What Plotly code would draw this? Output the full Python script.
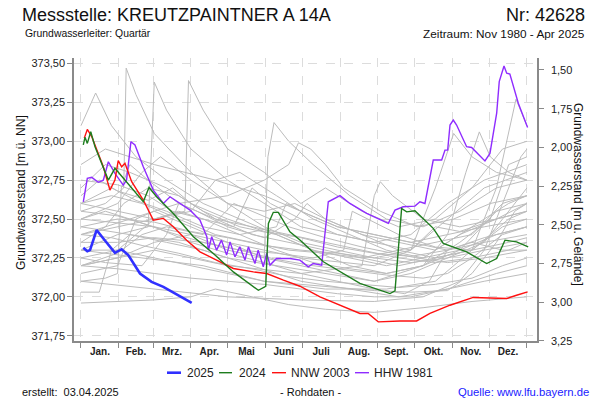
import plotly.graph_objects as go

# ---------------- data ----------------
month_starts = [0, 31, 59, 90, 120, 151, 181, 212, 243, 273, 304, 334, 365]
month_labels = ["Jan.", "Feb.", "Mrz.", "Apr.", "Mai", "Juni", "Juli", "Aug.", "Sept.", "Okt.", "Nov.", "Dez."]
left_ticks = [371.75, 372.00, 372.25, 372.50, 372.75, 373.00, 373.25, 373.50]
right_ticks = [1.50, 1.75, 2.00, 2.25, 2.50, 2.75, 3.00, 3.25]

y2025_day = [1.9, 5.2, 7.4, 12.8, 18.3, 27.8, 33.3, 38.7, 48.3, 57.8, 67.4, 78.3, 90.6]
y2025_val = [372.315, 372.293, 372.30, 372.429, 372.375, 372.283, 372.306, 372.268, 372.150, 372.096, 372.064, 372.017, 371.961]

y2024_day = [1.9, 3.3, 5.2, 8.0, 11.5, 15.6, 22.4, 27.8, 34.6, 42.8, 51.0, 55.7, 61.9, 75.6, 92.0, 108.3, 124.7, 145.2, 151.2, 153.4, 157.4, 161.5, 171.0, 179.2,
             198.4, 228.3, 252.9, 257.0, 262.4, 266.5, 273.3, 288.3, 296.5, 315.6, 332.0, 340.2, 347.0, 356.5, 366.0]
y2024_val = [372.976, 373.025, 372.986, 373.061, 372.965, 372.879, 372.750, 372.826, 372.761, 372.686, 372.611, 372.703, 372.643, 372.536, 372.386, 372.279, 372.160, 372.042, 372.068, 372.472, 372.543, 372.543, 372.418, 372.365,
             372.225, 372.086, 372.021, 372.038, 372.568, 372.546, 372.553, 372.440, 372.343, 372.289, 372.214, 372.246, 372.364, 372.353, 372.321]

nnw_day = [2.7, 5.2, 8.8, 12.8, 18.3, 23.7, 27.8, 30.5, 33.3, 36.0, 41.5, 51.0, 59.2, 67.4, 75.6, 86.5, 97.4, 111.0, 124.7, 141.1, 152.0, 165.7, 179.2,
           195.6, 212.0, 228.3, 235.0, 243.3, 261.0, 274.7, 285.6, 302.0, 321.0, 348.4, 356.5, 365.5]
nnw_val = [373.020, 373.076, 373.030, 372.943, 372.836, 372.686, 372.750, 372.875, 372.836, 372.858, 372.740, 372.622, 372.493, 372.504, 372.450, 372.364, 372.289, 372.236, 372.182, 372.160, 372.150, 372.107, 372.068,
           372.000, 371.946, 371.893, 371.893, 371.839, 371.845, 371.845, 371.893, 371.946, 371.996, 371.989, 372.010, 372.032]

hhw_day = [1.9, 5.2, 8.8, 14.2, 18.3, 22.4, 27.8, 34.6, 37.3, 40.9, 44.2, 51.0, 59.2, 67.4, 72.9, 81.1, 89.3, 97.4, 103.0, 104.3,
           107.0, 111.0, 115.0, 119.2, 122.0, 126.0, 130.0, 134.2, 137.0, 142.4, 145.0, 149.2, 152.0, 154.7, 160.0, 171.0, 179.2,
           186.0, 190.1, 197.0, 202.4, 212.0, 220.1, 233.8, 251.5, 257.0, 263.7, 273.3, 277.4, 281.5, 288.3, 295.2, 297.9, 300.1,
           302.0, 304.7, 307.4, 315.6, 319.7, 330.6, 334.7, 340.2, 342.3, 346.2, 348.4, 351.0, 357.9, 365.5]
hhw_val = [372.611, 372.761, 372.768, 372.736, 372.750, 372.868, 372.793, 372.718, 372.750, 372.997, 372.976, 372.836, 372.686, 372.600, 372.643, 372.600, 372.557, 372.493, 372.386, 372.300,
           372.386, 372.300, 372.364, 372.268, 372.353, 372.257, 372.321, 372.236, 372.321, 372.214, 372.300, 372.193, 372.280, 372.204, 372.246, 372.246, 372.236,
           372.193, 372.214, 372.204, 372.611, 372.650, 372.600, 372.536, 372.472, 372.557, 372.579, 372.583, 372.611, 372.600, 372.879, 372.879, 372.943, 372.943,
           373.104, 373.136, 373.104, 372.965, 372.960, 372.873, 372.922, 373.180, 373.383, 373.484, 373.437, 373.432, 373.244, 373.089]

# other years (grey)
grey_years = [
    ([0, 20, 35, 37, 45, 60, 90, 120, 150, 180, 210, 240, 270, 300, 330, 365],
     [372.55, 372.60, 372.70, 373.47, 373.30, 373.05, 372.80, 372.60, 372.45, 372.35, 372.30, 372.25, 372.30, 372.50, 372.70, 372.80]),
    ([0, 30, 55, 60, 70, 90, 120, 150, 180, 210, 240, 270, 300, 330, 365],
     [372.30, 372.40, 372.45, 373.38, 373.20, 372.95, 372.75, 372.60, 372.45, 372.40, 372.35, 372.40, 372.60, 372.75, 372.85]),
    ([0, 30, 60, 85, 88, 100, 120, 150, 180, 200, 230, 260, 290, 320, 345, 365],
     [372.60, 372.55, 372.50, 372.55, 373.39, 373.20, 372.95, 372.80, 372.60, 372.70, 372.55, 372.45, 372.50, 372.70, 372.95, 373.00]),
    ([0, 12, 25, 45, 70, 100, 130, 160, 190, 220, 250, 280, 310, 340, 365],
     [373.10, 373.31, 373.10, 372.90, 372.75, 372.60, 372.50, 372.40, 372.30, 372.25, 372.20, 372.25, 372.40, 372.50, 372.60]),
    ([0, 30, 60, 90, 120, 150, 153, 158, 170, 190, 220, 250, 280, 310, 340, 365],
     [372.20, 372.25, 372.35, 372.40, 372.30, 372.25, 372.90, 373.12, 373.00, 372.85, 372.65, 372.50, 372.45, 372.55, 372.70, 372.75]),
    ([0, 40, 80, 120, 150, 170, 178, 188, 200, 215, 245, 275, 305, 335, 365],
     [372.40, 372.50, 372.60, 372.65, 372.75, 372.85, 372.99, 372.95, 372.85, 372.70, 372.55, 372.45, 372.50, 372.60, 372.65]),
    ([0, 60, 120, 180, 230, 240, 245, 255, 280, 310, 340, 365],
     [372.20, 372.30, 372.20, 372.15, 372.20, 372.65, 372.74, 372.65, 372.50, 372.45, 372.50, 372.55]),
    ([0, 40, 80, 120, 160, 200, 240, 280, 300, 315, 326, 335, 350, 365],
     [372.45, 372.40, 372.35, 372.25, 372.20, 372.15, 372.10, 372.20, 372.40, 372.80, 373.06, 372.90, 372.80, 372.75]),
    ([0, 50, 100, 150, 200, 250, 290, 320, 340, 356, 365],
     [372.30, 372.25, 372.20, 372.10, 372.05, 372.05, 372.10, 372.30, 372.70, 373.27, 373.10]),
    ([0, 60, 120, 180, 240, 270, 290, 305, 320, 340, 365],
     [372.50, 372.45, 372.35, 372.25, 372.20, 372.30, 372.70, 373.05, 372.90, 372.80, 372.75]),
    ([0, 30, 60, 90, 110, 140, 170, 200, 240, 280, 320, 365],
     [371.96, 371.97, 371.98, 372.00, 372.05, 372.00, 371.95, 371.92, 371.90, 371.93, 371.97, 372.00]),
    ([0, 15, 25, 40, 70, 100, 140, 180, 220, 260, 300, 340, 365],
     [372.03, 372.03, 372.30, 372.40, 372.35, 372.30, 372.20, 372.10, 372.05, 372.00, 372.05, 372.15, 372.20]),
    ([0, 30, 45, 60, 90, 120, 150, 180, 210, 240, 270, 300, 330, 365],
     [372.15, 372.20, 372.50, 372.55, 372.45, 372.35, 372.25, 372.20, 372.15, 372.10, 372.15, 372.25, 372.35, 372.40]),
    ([0, 20, 40, 70, 100, 130, 160, 190, 220, 250, 280, 310, 340, 365],
     [372.70, 372.85, 372.80, 372.70, 372.55, 372.45, 372.40, 372.30, 372.20, 372.15, 372.20, 372.30, 372.55, 372.60]),
    ([0, 30, 50, 65, 90, 120, 150, 175, 200, 230, 260, 290, 320, 350, 365],
     [372.50, 372.60, 372.80, 372.90, 372.75, 372.60, 372.55, 372.60, 372.50, 372.40, 372.35, 372.30, 372.45, 372.60, 372.65]),
    ([0, 30, 60, 90, 110, 130, 160, 190, 220, 250, 280, 310, 340, 365],
     [372.40, 372.45, 372.50, 372.55, 372.75, 372.80, 372.65, 372.50, 372.40, 372.30, 372.25, 372.30, 372.40, 372.45]),
    ([0, 30, 60, 80, 100, 130, 160, 190, 220, 250, 280, 310, 335, 350, 365],
     [372.25, 372.30, 372.50, 372.55, 372.50, 372.40, 372.30, 372.22, 372.18, 372.15, 372.20, 372.35, 372.50, 372.85, 372.90]),
    ([0, 25, 50, 80, 110, 140, 170, 200, 230, 260, 290, 320, 345, 365],
     [372.60, 372.65, 372.60, 372.50, 372.40, 372.35, 372.30, 372.28, 372.25, 372.30, 372.35, 372.40, 372.60, 372.65]),
    ([0, 30, 60, 90, 120, 150, 180, 210, 240, 270, 300, 330, 365],
     [372.20, 372.18, 372.15, 372.12, 372.10, 372.08, 372.05, 372.02, 372.00, 372.00, 372.05, 372.10, 372.15]),
    ([0, 20, 35, 55, 80, 110, 140, 170, 200, 230, 260, 290, 320, 350, 365],
     [372.35, 372.45, 372.60, 372.70, 372.65, 372.50, 372.40, 372.35, 372.30, 372.25, 372.20, 372.25, 372.30, 372.50, 372.55]),
    ([0, 60, 120, 180, 240, 280, 310, 330, 345, 360, 365],
     [372.10, 372.05, 372.00, 371.98, 371.97, 372.00, 372.10, 372.30, 372.60, 372.90, 372.95]),
    ([0, 20, 40, 60, 85, 110, 130, 150, 180, 210, 240, 270, 300, 330, 365],
     [372.85, 372.95, 372.90, 372.85, 372.80, 372.75, 372.70, 372.65, 372.55, 372.45, 372.40, 372.35, 372.40, 372.45, 372.50]),
    ([0, 30, 60, 90, 120, 150, 180, 210, 240, 270, 300, 330, 365],
     [372.45, 372.50, 372.48, 372.42, 372.38, 372.33, 372.30, 372.28, 372.25, 372.22, 372.25, 372.30, 372.35]),
    ([0, 15, 30, 55, 75, 90, 120, 150, 180, 210, 240, 270, 300, 330, 365],
     [372.65, 372.75, 372.68, 372.62, 372.70, 372.60, 372.50, 372.42, 372.38, 372.32, 372.28, 372.26, 372.30, 372.38, 372.45]),
    ([0, 20, 30, 33, 40, 55, 80, 110, 140, 170, 200, 230, 260, 290, 320, 350, 365],
     [372.10, 372.12, 372.15, 372.70, 372.85, 372.75, 372.60, 372.50, 372.45, 372.40, 372.35, 372.30, 372.25, 372.22, 372.25, 372.30, 372.35]),
    ([0, 20, 50, 70, 80, 95, 120, 150, 175, 185, 200, 230, 260, 290, 320, 345, 365],
     [372.25, 372.22, 372.20, 372.40, 372.60, 372.55, 372.45, 372.38, 372.50, 372.60, 372.50, 372.40, 372.30, 372.25, 372.30, 372.45, 372.50]),
    ([0, 30, 60, 100, 130, 160, 190, 215, 222, 235, 260, 290, 320, 350, 365],
     [372.35, 372.35, 372.38, 372.35, 372.30, 372.28, 372.25, 372.30, 372.55, 372.50, 372.40, 372.32, 372.30, 372.35, 372.38]),
    ([0, 30, 60, 90, 120, 150, 180, 210, 240, 265, 285, 300, 320, 345, 365],
     [372.55, 372.52, 372.45, 372.35, 372.28, 372.22, 372.15, 372.10, 372.05, 372.02, 372.10, 372.30, 372.35, 372.30, 372.30]),
    ([0, 30, 55, 75, 100, 125, 140, 155, 180, 210, 240, 270, 290, 310, 340, 365],
     [372.75, 372.72, 372.65, 372.55, 372.50, 372.45, 372.70, 372.60, 372.50, 372.40, 372.35, 372.30, 372.45, 372.42, 372.50, 372.55]),
    ([0, 25, 50, 80, 110, 140, 170, 200, 230, 260, 290, 320, 345, 365],
     [372.40, 372.38, 372.33, 372.28, 372.22, 372.18, 372.13, 372.10, 372.08, 372.06, 372.08, 372.12, 372.20, 372.25]),
    ([0, 30, 50, 70, 100, 125, 140, 170, 200, 230, 255, 275, 300, 330, 365],
     [372.20, 372.28, 372.40, 372.45, 372.40, 372.60, 372.55, 372.45, 372.38, 372.32, 372.28, 372.25, 372.22, 372.25, 372.30]),
    ([0, 25, 45, 70, 100, 130, 160, 168, 180, 210, 240, 270, 300, 330, 350, 365],
     [372.60, 372.70, 372.62, 372.55, 372.45, 372.40, 372.45, 372.60, 372.55, 372.45, 372.40, 372.35, 372.30, 372.35, 372.55, 372.70]),
    ([0, 30, 60, 90, 120, 150, 180, 210, 240, 270, 300, 320, 340, 355, 365],
     [372.30, 372.30, 372.25, 372.20, 372.15, 372.10, 372.08, 372.06, 372.04, 372.03, 372.04, 372.15, 372.35, 372.55, 372.60]),
    ([0, 20, 40, 70, 100, 130, 160, 190, 220, 250, 280, 300, 320, 345, 365],
     [372.50, 372.55, 372.50, 372.42, 372.35, 372.30, 372.24, 372.20, 372.17, 372.14, 372.12, 372.15, 372.25, 372.40, 372.45]),
]

# ---------------- figure ----------------
FONT = "Liberation Sans, Arial, sans-serif"
L, R, T, B = 74, 537, 58, 341          # plot area in pixels
PW, PH = R - L, B - T


def px(x):
    return (x - L) / PW


def py(y):
    return (B - y) / PH


fig = go.Figure()

for d, v in grey_years:
    fig.add_trace(go.Scatter(x=d, y=v, mode="lines", line=dict(color="#bcbcbc", width=1),
                             showlegend=False, hoverinfo="skip"))

series = [
    ("HHW 1981", hhw_day, hhw_val, "#8f2cff", 1.4),
    ("NNW 2003", nnw_day, nnw_val, "#ff1010", 1.4),
    ("2024", y2024_day, y2024_val, "#1e7d1e", 1.4),
    ("2025", y2025_day, y2025_val, "#3030ff", 2.6),
]
for name, d, v, c, w in series:
    fig.add_trace(go.Scatter(x=d, y=v, mode="lines", name=name, line=dict(color=c, width=w),
                             showlegend=False))
fig.add_trace(go.Scatter(x=[None], y=[None], yaxis="y2", showlegend=False, hoverinfo="skip"))

mid = [(month_starts[i] + month_starts[i + 1]) / 2 for i in range(12)]

fig.update_layout(
    width=600, height=400,
    margin=dict(l=L, r=600 - R, t=T, b=400 - B),
    paper_bgcolor="white", plot_bgcolor="white",
    separators=",.",
    font=dict(family=FONT, size=11, color="#222"),
    showlegend=False,
    xaxis=dict(range=[-5.7, 373.2], tickmode="array", tickvals=mid, ticktext=month_labels,
               ticks="", showgrid=False, zeroline=False, showline=True, linecolor="#8a8a8a", linewidth=1.5,
               tickfont=dict(size=10, color="#222", family=FONT, weight="bold"),
               minor=dict(tickmode="array", tickvals=month_starts, ticks="outside", ticklen=5,
                          tickcolor="#8a8a8a", showgrid=True, gridcolor="#dcdcdc", griddash="dash", gridwidth=1)),
    yaxis=dict(range=[371.716, 373.535], tickmode="array", tickvals=left_ticks, tickformat=".2f",
               ticks="outside", ticklen=5, tickcolor="#8a8a8a", showline=True, linecolor="#8a8a8a", linewidth=1.5,
               showgrid=True, gridcolor="#dcdcdc", griddash="dash", zeroline=False,
               tickfont=dict(size=11, color="#222")),
    yaxis2=dict(range=[3.2501, 1.423], overlaying="y", side="right", tickmode="array", tickvals=right_ticks,
                tickformat=".2f", ticks="outside", ticklen=5, tickcolor="#8a8a8a", showline=True,
                linecolor="#8a8a8a", linewidth=1.5, showgrid=False, zeroline=False, ticklabelstandoff=5,
                tickfont=dict(size=11, color="#222")),
)

# manual legend (short line samples like the original)
legend_items = [("2025", "#3030ff", 2.6, 167, 181, 186), ("2024", "#1e7d1e", 1.4, 219, 232, 238),
                ("NNW 2003", "#ff1010", 1.4, 272, 286, 290), ("HHW 1981", "#8f2cff", 1.4, 355, 369, 373)]
for text, c, w, x0, x1, xt in legend_items:
    fig.add_shape(type="line", xref="paper", yref="paper", x0=px(x0), x1=px(x1), y0=py(372.7), y1=py(372.7),
                  line=dict(color=c, width=w))
    fig.add_annotation(text=text, xref="paper", yref="paper", x=px(xt), y=py(373), xanchor="left",
                       yanchor="middle", showarrow=False, borderpad=0,
                       font=dict(size=12, color="#222", family=FONT))

ann = [
    dict(text="Messstelle: KREUTZPAINTNER A 14A", x=21, y=15, size=18, anchor="left", color="#111"),
    dict(text="Nr: 42628", x=586, y=15, size=18, anchor="right", color="#111"),
    dict(text="Grundwasserleiter: Quartär", x=24, y=33.5, size=10.4, anchor="left", color="#111"),
    dict(text="Zeitraum: Nov 1980 - Apr 2025", x=586, y=33.5, size=11.8, anchor="right", color="#111"),
    dict(text="erstellt:  03.04.2025", x=21, y=392, size=11, anchor="left", color="#111"),
    dict(text="- Rohdaten -", x=310.5, y=392, size=11, anchor="center", color="#111"),
    dict(text="Quelle: www.lfu.bayern.de", x=590, y=392, size=11.3, anchor="right", color="#1a1aff"),
]
for a in ann:
    fig.add_annotation(text=a["text"], xref="paper", yref="paper", x=px(a["x"]), y=py(a["y"]),
                       xanchor=a["anchor"], yanchor="middle", showarrow=False, borderpad=0,
                       font=dict(size=a["size"], color=a["color"], family=FONT))
fig.add_annotation(text="Grundwasserstand [m ü. NN]", xref="paper", yref="paper",
                   x=px(21), y=py(193), xanchor="center", yanchor="middle", borderpad=0,
                   textangle=-90, showarrow=False, font=dict(size=12, color="#111", family=FONT))
fig.add_annotation(text="Grundwasserstand [m u. Gelände]", xref="paper", yref="paper",
                   x=px(578), y=py(194), xanchor="center", yanchor="middle", borderpad=0,
                   textangle=90, showarrow=False, font=dict(size=12, color="#111", family=FONT))

fig.write_html("out.html", config={"displayModeBar": False},
               post_script="document.body.style.margin='0px';")
